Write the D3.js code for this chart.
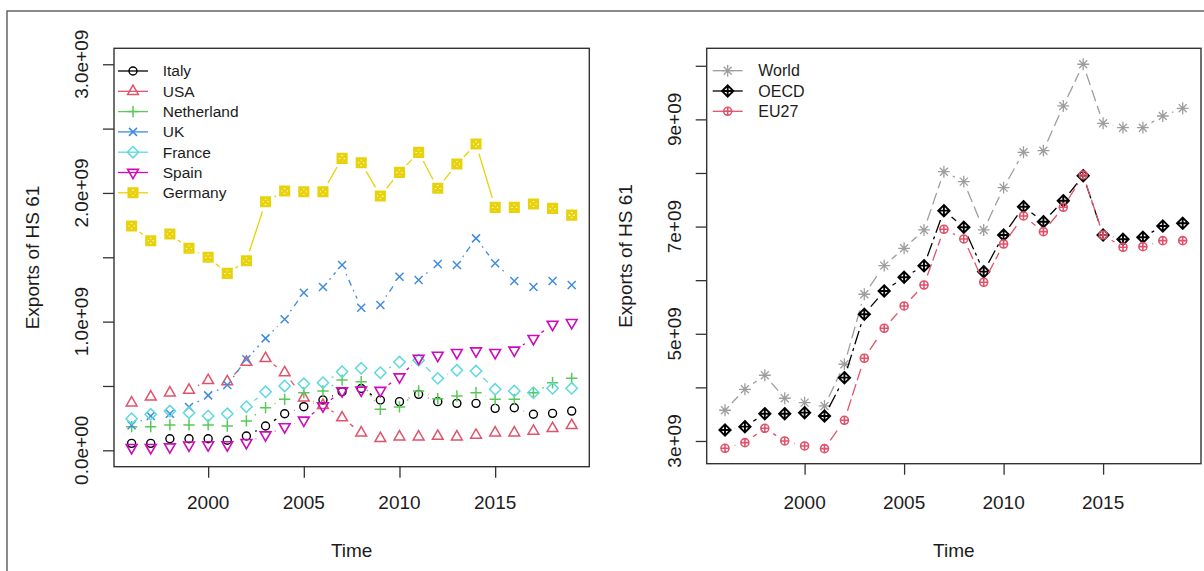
<!DOCTYPE html>
<html><head><meta charset="utf-8">
<script src="https://cdn.jsdelivr.net/npm/d3@7"></script>
<style>
body{margin:0;background:#fff}
svg text{font-family:"Liberation Sans",Arial,sans-serif;fill:#1c1c1c}
</style>
</head><body>
<svg id="chart" width="1204" height="571"></svg>
<script>
// ---------------- data (values in units of 1e9 USD) ----------------
const years = [1996,1997,1998,1999,2000,2001,2002,2003,2004,2005,2006,2007,2008,2009,2010,2011,2012,2013,2014,2015,2016,2017,2018,2019];

const italy      = [0.054,0.054,0.090,0.090,0.090,0.078,0.111,0.189,0.284,0.339,0.391,0.455,0.480,0.391,0.378,0.435,0.378,0.365,0.365,0.326,0.331,0.280,0.287,0.305];
const usa        = [0.369,0.416,0.447,0.468,0.543,0.533,0.685,0.714,0.603,0.408,0.350,0.253,0.136,0.092,0.105,0.105,0.110,0.105,0.118,0.136,0.136,0.149,0.170,0.193];
const netherland = [0.184,0.184,0.197,0.197,0.197,0.189,0.228,0.331,0.396,0.448,0.461,0.546,0.533,0.319,0.337,0.461,0.401,0.422,0.448,0.396,0.396,0.448,0.525,0.559];
const uk         = [0.194,0.266,0.284,0.336,0.427,0.507,0.707,0.870,1.018,1.225,1.269,1.440,1.108,1.129,1.349,1.323,1.448,1.440,1.647,1.453,1.316,1.269,1.316,1.284];
const france     = [0.246,0.280,0.305,0.292,0.267,0.284,0.339,0.455,0.500,0.517,0.525,0.611,0.637,0.603,0.686,0.700,0.559,0.622,0.616,0.474,0.461,0.448,0.482,0.482];
const spain      = [0.021,0.021,0.026,0.040,0.042,0.042,0.060,0.119,0.182,0.234,0.345,0.461,0.467,0.465,0.570,0.715,0.738,0.759,0.772,0.759,0.778,0.868,0.979,0.992];
const germany    = [1.743,1.629,1.681,1.570,1.500,1.375,1.473,1.932,2.015,2.009,2.009,2.269,2.235,1.976,2.160,2.315,2.036,2.225,2.380,1.888,1.888,1.914,1.880,1.828];

const world = [3.573,3.964,4.226,3.797,3.715,3.653,4.431,5.737,6.271,6.595,6.937,8.024,7.838,6.937,7.726,8.386,8.416,9.250,10.028,8.927,8.845,8.845,9.063,9.207];
const oecd  = [3.205,3.267,3.509,3.509,3.528,3.466,4.181,5.364,5.799,6.054,6.271,7.297,6.987,6.159,6.843,7.371,7.091,7.483,7.950,6.843,6.763,6.800,7.011,7.061];
const eu27  = [2.863,2.969,3.237,3.000,2.907,2.857,3.386,4.543,5.103,5.519,5.910,6.950,6.769,5.961,6.675,7.198,6.905,7.360,7.963,6.843,6.614,6.625,6.737,6.737];

const leftNames  = ["Italy","USA","Netherland","UK","France","Spain","Germany"];
const rightNames = ["World","OECD","EU27"];

const xTicks = [2000,2005,2010,2015];
const xTickLabels = ["2000","2005","2010","2015"];
const leftYTicks = [0,0.5,1,1.5,2,2.5,3];
const leftYLabelVals = [0,1,2,3];
const leftYLabels = ["0.0e+00","1.0e+09","2.0e+09","3.0e+09"];
const rightYTicks = [3,4,5,6,7,8,9,10];
const rightYLabelVals = [3,5,7,9];
const rightYLabels = ["3e+09","5e+09","7e+09","9e+09"];

const yTitle = "Exports of HS 61";
const xTitle = "Time";

// ---------------- styles ----------------
const leftColors = ["#000000","#DF536B","#58C957","#3F8BE0","#5FD8DE","#CD0BBC","#E8D20C"];
const leftPch = [1,2,3,4,5,6,7];
const leftDash = [null,"6,6","1.6,4.7","1.6,4.7,6.3,4.7","11,4.7","3.2,3.2,9.5,3.2",null];
const rightColors = ["#9E9E9E","#000000","#DF536B"];
const rightPch = [8,9,10];
const rightDash = ["12,5","14,4,3,4","12,4"];

const svg = d3.select("#chart");
const S = 4;          // symbol radius unit
const GAP = 10;       // type="b" gap around points

// outer frame
svg.append("rect").attr("x",7).attr("y",11).attr("width",1230).attr("height",600)
  .attr("fill","none").attr("stroke","#5a5a5a").attr("stroke-width",1.4);

function symbolPath(pch){
  const s=S, r2=Math.SQRT2*s;
  switch(pch){
    case 2: return `M0,${-1.555*s}L${1.347*s},${0.778*s}L${-1.347*s},${0.778*s}Z`;
    case 3: return `M${-r2},0H${r2}M0,${-r2}V${r2}`;
    case 4: return `M${-s},${-s}L${s},${s}M${-s},${s}L${s},${-s}`;
    case 5: return `M0,${-r2}L${r2},0L0,${r2}L${-r2},0Z`;
    case 6: return `M0,${1.555*s}L${1.347*s},${-0.778*s}L${-1.347*s},${-0.778*s}Z`;
    case 7: { const h=0.886*s*1.2; return `M${-h},${-h}H${h}V${h}H${-h}ZM${-h},${-h}L${h},${h}M${-h},${h}L${h},${-h}`; }
    case 8: return `M${-s},${-s}L${s},${s}M${-s},${s}L${s},${-s}M${-r2*1.05},0H${r2*1.05}M0,${-r2*1.05}V${r2*1.05}`;
    case 9: return `M0,${-r2}L${r2},0L0,${r2}L${-r2},0ZM${-r2},0H${r2}M0,${-r2}V${r2}`;
    case 10: return `M${s},0A${s},${s} 0 1,1 ${-s},0A${s},${s} 0 1,1 ${s},0ZM${-s},0H${s}M0,${-s}V${s}`;
    default: return `M${s},0A${s},${s} 0 1,1 ${-s},0A${s},${s} 0 1,1 ${s},0Z`;
  }
}

function drawPanel(cfg){
  const x = d3.scaleLinear().domain(cfg.xDomain).range(cfg.xRange);
  const y = d3.scaleLinear().domain(cfg.yDomain).range(cfg.yRange);
  const g = svg.append("g");
  const [x0,x1]=cfg.xRange, [yb,yt]=cfg.yRange;

  // axes
  g.append("g").attr("transform",`translate(0,${yb})`)
    .call(d3.axisBottom(x).tickValues(xTicks).tickFormat("").tickSize(11).tickSizeOuter(0))
    .call(a=>a.select(".domain").remove())
    .call(a=>a.selectAll("line").attr("stroke","#333").attr("stroke-width",1.3));
  g.append("g").attr("transform",`translate(${x0},0)`)
    .call(d3.axisLeft(y).tickValues(cfg.yTicks).tickFormat("").tickSize(11).tickSizeOuter(0))
    .call(a=>a.select(".domain").remove())
    .call(a=>a.selectAll("line").attr("stroke","#333").attr("stroke-width",1.3));

  g.selectAll(".xl").data(xTicks).join("text")
    .attr("x",d=>x(d)).attr("y",509).attr("text-anchor","middle")
    .attr("font-size",19).text((d,i)=>xTickLabels[i]);
  g.selectAll(".yl").data(cfg.yLabelVals).join("text")
    .attr("transform",d=>`translate(${x0-26},${y(d)}) rotate(-90)`)
    .attr("text-anchor","middle").attr("font-size",19).text((d,i)=>cfg.yLabels[i]);

  g.append("text").attr("x",(x0+x1)/2).attr("y",557).attr("text-anchor","middle")
    .attr("font-size",19).text(xTitle);
  g.append("text").attr("transform",`translate(${x0-75},${(yb+yt)/2}) rotate(-90)`)
    .attr("text-anchor","middle").attr("font-size",19).text(yTitle);

  // series
  const clipId = "clip"+cfg.id;
  svg.append("clipPath").attr("id",clipId).append("rect")
    .attr("x",x0).attr("y",yt).attr("width",x1-x0).attr("height",yb-yt);
  const plot = g.append("g").attr("clip-path",`url(#${clipId})`);

  cfg.series.forEach((vals,si)=>{
    const pts = years.map((yr,i)=>[x(yr),y(vals[i])]);
    const sg = plot.append("g");
    for(let i=1;i<pts.length;i++){
      const [ax,ay]=pts[i-1],[bx,by]=pts[i];
      const d=Math.hypot(bx-ax,by-ay), f=GAP/d;
      if(f<0.5){
        sg.append("line")
          .attr("x1",ax+f*(bx-ax)).attr("y1",ay+f*(by-ay))
          .attr("x2",bx-f*(bx-ax)).attr("y2",by-f*(by-ay))
          .attr("stroke",cfg.colors[si]).attr("stroke-width",1.3)
          .attr("stroke-dasharray",cfg.dash[si]);
      }
    }
    sg.selectAll("path.sym").data(pts).join("path")
      .attr("transform",p=>`translate(${p[0]},${p[1]})`)
      .attr("d",symbolPath(cfg.pch[si])).attr("fill","none")
      .attr("stroke",cfg.colors[si]).attr("stroke-width",cfg.symW[si]);
  });

  // box
  g.append("rect").attr("x",x0).attr("y",yt).attr("width",x1-x0).attr("height",yb-yt)
    .attr("fill","none").attr("stroke","#333").attr("stroke-width",1.4);

  // legend
  const lg = g.append("g");
  cfg.names.forEach((nm,i)=>{
    const ly = cfg.legY + i*20.3;
    lg.append("line").attr("x1",cfg.legX).attr("x2",cfg.legX+30).attr("y1",ly).attr("y2",ly)
      .attr("stroke",cfg.colors[i]).attr("stroke-width",1.3);
    lg.append("path").attr("transform",`translate(${cfg.legX+15},${ly})`)
      .attr("d",symbolPath(cfg.pch[i])).attr("fill","none")
      .attr("stroke",cfg.colors[i]).attr("stroke-width",cfg.symW[i]);
    lg.append("text").attr("x",cfg.legTextX).attr("y",ly).attr("dy","0.35em")
      .attr("font-size",cfg.legFont).text(nm);
  });
}

drawPanel({
  id:"L", xDomain:[1995.08,2019.92], xRange:[114,589.3],
  yDomain:[-0.1274,3.124], yRange:[466.7,48.3],
  yTicks:leftYTicks, yLabelVals:leftYLabelVals, yLabels:leftYLabels,
  series:[italy,usa,netherland,uk,france,spain,germany],
  names:leftNames, colors:leftColors, pch:leftPch, dash:leftDash,
  symW:[1.4,1.5,1.5,1.5,1.5,1.6,2.6],
  legX:118, legTextX:162.7, legY:71, legFont:15.5
});
drawPanel({
  id:"R", xDomain:[1995.08,2019.92], xRange:[706.7,1201],
  yDomain:[2.576,10.326], yRange:[463.7,48.3],
  yTicks:rightYTicks, yLabelVals:rightYLabelVals, yLabels:rightYLabels,
  series:[world,oecd,eu27],
  names:rightNames, colors:rightColors, pch:rightPch, dash:rightDash,
  symW:[1.3,1.9,1.6],
  legX:712.7, legTextX:758.3, legY:70.7, legFont:16
});
</script>
</body></html>
